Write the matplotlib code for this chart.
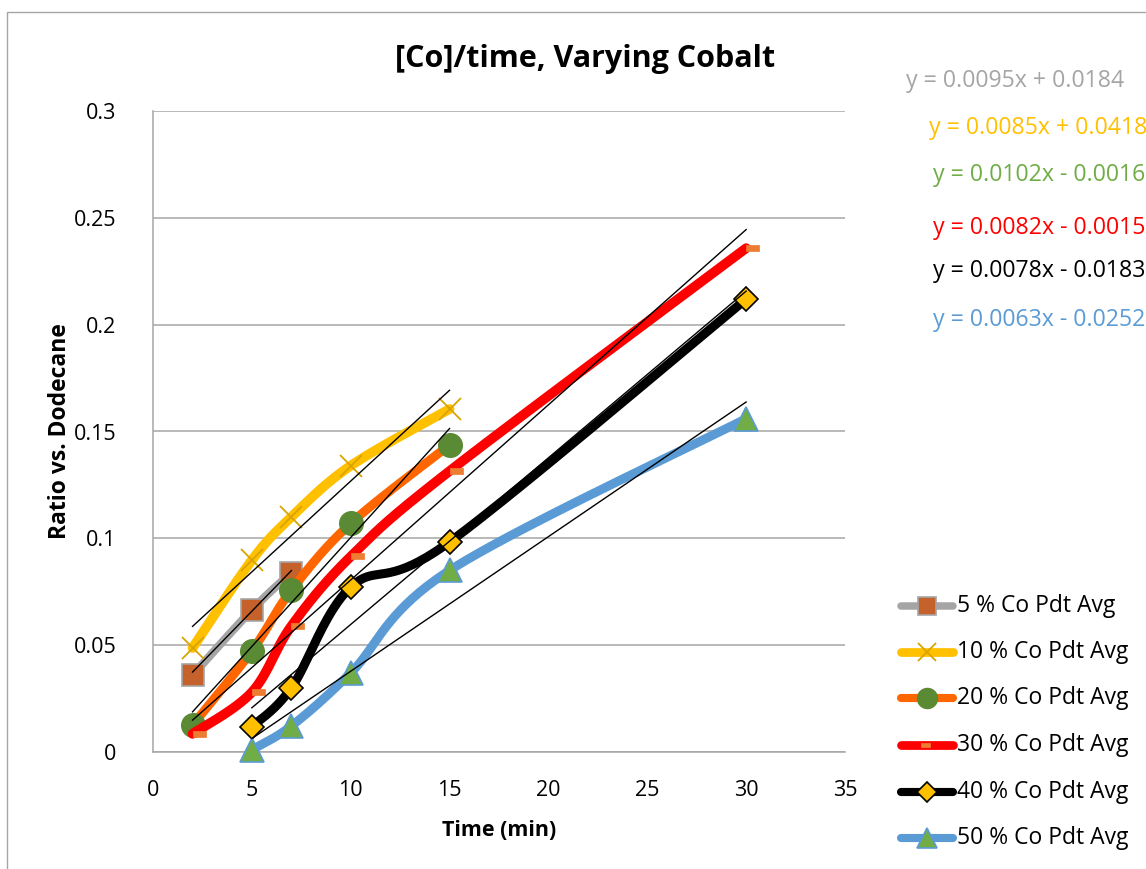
import numpy as np
import matplotlib
matplotlib.use("Agg")
import matplotlib.pyplot as plt
from matplotlib.lines import Line2D
from matplotlib.patches import Rectangle
from matplotlib.path import Path

plt.rcParams['font.family'] = ['Open Sans', 'DejaVu Sans']

# ---- data -------------------------------------------------------------
labels = ["5 % Co Pdt Avg", "10 % Co Pdt Avg", "20 % Co Pdt Avg",
          "30 % Co Pdt Avg", "40 % Co Pdt Avg", "50 % Co Pdt Avg"]

t_5 = [2, 5, 7]
r_5 = [0.036, 0.0665, 0.084]
t_10 = [2, 5, 7, 10, 15]
r_10 = [0.0487, 0.0898, 0.110, 0.134, 0.1605]
t_20 = [2, 5, 7, 10, 15]
r_20 = [0.0126, 0.0473, 0.0758, 0.107, 0.1437]
t_30 = [2, 5, 7, 10, 15, 30]
r_30 = [0.0085, 0.0280, 0.0590, 0.0915, 0.1315, 0.2358]
t_40 = [5, 7, 10, 15, 30]
r_40 = [0.0118, 0.0300, 0.0772, 0.0983, 0.2120]
t_50 = [5, 7, 10, 15, 30]
r_50 = [0.0010, 0.0122, 0.0370, 0.0850, 0.1560]

# linear trendline coefficients (slope, intercept)
slopes = [0.0095, 0.0085, 0.0102, 0.0082, 0.0078, 0.0063]
intercepts = [0.0184, 0.0418, -0.0016, -0.0015, -0.0183, -0.0252]

x_ticks = [0, 5, 10, 15, 20, 25, 30, 35]
y_ticks = [0, 0.05, 0.1, 0.15, 0.2, 0.25, 0.3]
y_tick_labels = ["0", "0.05", "0.1", "0.15", "0.2", "0.25", "0.3"]

# ---- styles -----------------------------------------------------------
bar_marker = Path([(0, -0.2), (1, -0.2), (1, 0.2), (0, 0.2), (0, -0.2)],
                  [Path.MOVETO, Path.LINETO, Path.LINETO, Path.LINETO, Path.CLOSEPOLY])

styles = [
    dict(color="#A5A5A5", lw=6.0, marker="s", ms=15.5, mfc="#C5612A", mec="#A5A5A5", mew=1.2),
    dict(color="#FFC000", lw=7.0, marker="x", ms=16, mfc="#D9A400", mec="#D9A400", mew=1.3),
    dict(color="#FF6600", lw=6.5, marker="o", ms=17, mfc="#5A8A34", mec="#5A8A34", mew=1.0),
    dict(color="#FF0000", lw=7.0, marker=bar_marker, ms=18.5, mfc="#ED7D31", mec="#ED7D31", mew=0.5),
    dict(color="#000000", lw=6.5, marker="D", ms=12.5, mfc="#FFC000", mec="#000000", mew=1.2),
    dict(color="#5B9BD5", lw=6.5, marker="^", ms=17, mfc="#70AD47", mec="#5B9BD5", mew=1.2),
]
eq_colors = ["#A5A5A5", "#FFC000", "#70AD47", "#FF0000", "#000000", "#5B9BD5"]

series = [(t_5, r_5), (t_10, r_10), (t_20, r_20),
          (t_30, r_30), (t_40, r_40), (t_50, r_50)]


def smooth(x, y, n=40):
    """Bezier smoothing through every point (Catmull-Rom style tangents)."""
    p = np.column_stack([x, y]).astype(float)
    out = [p[0]]
    for i in range(len(p) - 1):
        p0 = p[i - 1] if i > 0 else p[i]
        p1, p2 = p[i], p[i + 1]
        p3 = p[i + 2] if i + 2 < len(p) else p[i + 1]
        c1 = p1 + (p2 - p0) / 6.0
        c2 = p2 - (p3 - p1) / 6.0
        t = np.linspace(0, 1, n)[1:, None]
        seg = ((1 - t) ** 3) * p1 + 3 * ((1 - t) ** 2) * t * c1 + 3 * (1 - t) * t ** 2 * c2 + t ** 3 * p2
        out.extend(seg)
    out = np.array(out)
    return out[:, 0], out[:, 1]


W, H = 1146, 869
fig = plt.figure(figsize=(W / 100, H / 100), dpi=100)


def fx(px):
    return px / W


def fy(py):
    return 1 - py / H


# chart border
fig.add_artist(Rectangle((fx(7), fy(880)), 1.2, fy(12) - fy(880), transform=fig.transFigure,
                         fill=False, ec="#A6A6A6", lw=1.0))

ax = fig.add_axes([fx(153), fy(752), fx(845) - fx(153), fy(111) - fy(752)])
ax.set_xlim(0, 35)
ax.set_ylim(0, 0.3)
ax.set_xticks(x_ticks)
ax.set_yticks(y_ticks)
ax.set_yticklabels(y_tick_labels)
ax.tick_params(axis="both", length=0, labelsize=15.5)
ax.tick_params(axis="y", pad=26.5)
ax.tick_params(axis="x", pad=20.5)
ax.grid(axis="y", color="#A6A6A6", lw=1.1)
ax.set_axisbelow(True)
for side in ("top", "right"):
    ax.spines[side].set_visible(False)
for side in ("left", "bottom"):
    ax.spines[side].set_color("#A6A6A6")
    ax.spines[side].set_linewidth(1.1)

for k, ((tx, ry), st) in enumerate(zip(series, styles)):
    sx, sy = smooth(tx, ry)
    ax.plot(sx, sy, color=st["color"], lw=st["lw"], solid_capstyle="round",
            solid_joinstyle="round", zorder=3 + 2 * k, clip_on=False)
    ax.plot(tx, ry, ls="none", marker=st["marker"], ms=st["ms"], mfc=st["mfc"],
            mec=st["mec"], mew=st["mew"], zorder=4 + 2 * k, clip_on=False)

for k, (tx, ry) in enumerate(series):
    xs = np.array([tx[0], tx[-1]], dtype=float)
    ax.plot(xs, slopes[k] * xs + intercepts[k], color="black", lw=1.0, zorder=20, clip_on=False)

ax.set_xlabel("Time (min)", fontsize=15.5, fontweight="bold", labelpad=13.5)
ax.set_ylabel("Ratio vs. Dodecane", fontsize=16.5, fontweight="bold", labelpad=1)

fig.text(fx(585), fy(59), "[Co]/time, Varying Cobalt", fontsize=22, fontweight="bold",
         ha="center", va="center")

# trendline equations
eq_pos = [(906, 81), (929, 128), (933, 175), (933, 228), (933, 271), (933, 320)]
for k, (px, py) in enumerate(eq_pos):
    b = intercepts[k]
    sign = "+" if b >= 0 else "-"
    txt = f"y = {slopes[k]:.4f}x {sign} {abs(b):.4f}"
    fig.text(fx(px), fy(py), txt, fontsize=16.7, color=eq_colors[k], ha="left", va="center")

# legend
leg_rows = [606, 652, 698, 745, 792, 838]
for k, py in enumerate(leg_rows):
    st = styles[k]
    fig.add_artist(Line2D([fx(901), fx(953)], [fy(py), fy(py)], transform=fig.transFigure,
                          color=st["color"], lw=st["lw"] * 0.9, solid_capstyle="round"))
    mx = fx(927) if k != 3 else fx(921)
    fig.add_artist(Line2D([mx], [fy(py)], transform=fig.transFigure, ls="none",
                          marker=st["marker"], ms=st["ms"] * (0.85 if k != 3 else 0.7),
                          mfc=st["mfc"], mec=st["mec"], mew=st["mew"]))
    fig.text(fx(957), fy(py), labels[k], fontsize=16.5, ha="left", va="center")

fig.savefig("out.png", dpi=100)
